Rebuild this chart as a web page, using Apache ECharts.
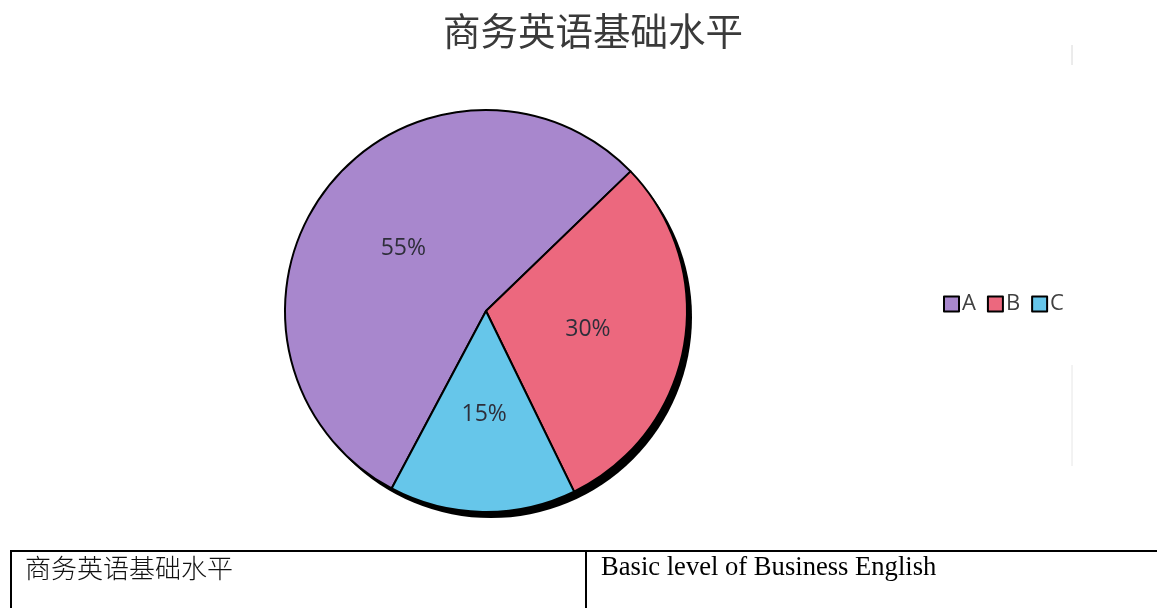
<!DOCTYPE html>
<html>
<head>
<meta charset="utf-8">
<script src="https://cdn.jsdelivr.net/npm/echarts@6/dist/echarts.min.js"></script>
<style>
html,body{margin:0;padding:0;background:#fff;}
#c{width:1157px;height:608px;}
</style>
</head>
<body>
<div id="c"></div>
<script>
const chartTitle = '商务英语基础水平';
const categories = ['A', 'B', 'C'];
const values = [55, 30, 15];
const colors = ['#a887cd', '#ec687e', '#66c6ea'];
const tableLeft = '商务英语基础水平';
const tableRight = 'Basic level of Business English';

const chart = echarts.init(document.getElementById('c'), null, {renderer: 'canvas'});
const cx = 486, cy = 311, R = 201;

chart.setOption({
  animation: false,
  backgroundColor: '#ffffff',
  title: {
    text: chartTitle,
    left: 588,
    textAlign: 'center',
    top: 7,
    textStyle: {fontFamily: 'Noto Sans CJK SC', fontSize: 37.5, fontWeight: 'normal', color: '#3a3a3a'}
  },
  legend: {
    data: categories,
    orient: 'horizontal',
    left: 943,
    top: 293,
    padding: 0,
    icon: 'rect',
    itemWidth: 15,
    itemHeight: 15,
    itemGap: 11,
    textStyle: {fontFamily: 'Open Sans', fontSize: 22, color: '#404040', padding: [0, 0, 0, -2]}
  },
  series: [
    {
      type: 'pie',
      silent: true,
      center: [cx + 5, cy + 6],
      radius: R,
      label: {show: false},
      labelLine: {show: false},
      itemStyle: {color: '#000', borderWidth: 0},
      data: [{name: '_shadow', value: 1}],
      z: 1
    },
    {
      type: 'pie',
      center: [cx, cy],
      radius: R,
      startAngle: 242,
      clockwise: true,
      z: 2,
      label: {
        show: true,
        position: 'inside',
        formatter: '{d}%',
        fontFamily: 'Open Sans',
        fontSize: 23,
        color: '#2e2e3a'
      },
      labelLine: {show: false},
      itemStyle: {borderColor: '#000', borderWidth: 2},
      emphasis: {disabled: true},
      data: categories.map((c, i) => ({name: c, value: values[i], itemStyle: {color: colors[i]}}))
    }
  ],
  graphic: [
    {type: 'line', shape: {x1: 10, y1: 551, x2: 1157, y2: 551}, style: {stroke: '#000', lineWidth: 2}},
    {type: 'line', shape: {x1: 11, y1: 550, x2: 11, y2: 608}, style: {stroke: '#000', lineWidth: 2}},
    {type: 'line', shape: {x1: 586, y1: 550, x2: 586, y2: 608}, style: {stroke: '#000', lineWidth: 2}},
    {type: 'text', left: 25, top: 555, style: {text: tableLeft, fontFamily: 'Noto Sans CJK SC', fontSize: 26, fontWeight: 300, fill: '#111'}},
    {type: 'text', left: 601, top: 555, style: {text: tableRight, fontFamily: 'Liberation Serif', fontSize: 26.6, fill: '#000'}},
    {type: 'line', shape: {x1: 1072, y1: 45, x2: 1072, y2: 65}, style: {stroke: '#d8d8d8', lineWidth: 1}},
    {type: 'line', shape: {x1: 1072, y1: 365, x2: 1072, y2: 466}, style: {stroke: '#e6e6e6', lineWidth: 1}}
  ]
});
</script>
</body>
</html>
